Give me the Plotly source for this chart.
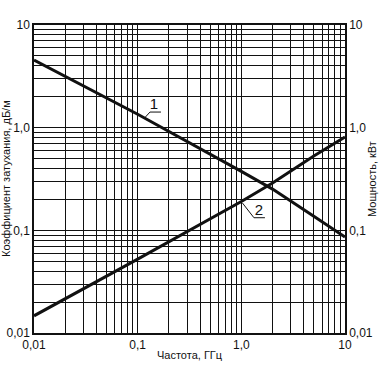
import plotly.graph_objects as go

# Data
freq = [0.01, 0.1, 1.0, 2.0, 5.0, 10.0]            # ГГц
curve1 = [4.55, 1.35, 0.375, 0.252, 0.137, 0.086]  # curve 1
curve2 = [0.0147, 0.0524, 0.191, 0.289, 0.53, 0.81] # curve 2

tick_vals = [0.01, 0.1, 1, 10]
x_tick_text = ["0,01", "0,1", "1,0", "10"]
y_tick_text = ["0,01", "0,1", "1,0", "10"]
minor_vals = [m * d for d in (0.01, 0.1, 1) for m in range(2, 10)]

# Callout labels and leader lines (data coordinates)
lab1_pos = (0.1435, 1.66)
lab1_leader_x = [0.1175, 0.1314, 0.1678]
lab1_leader_y = [1.254, 1.419, 1.419]
lab2_pos = (1.479, 0.154)
lab2_leader_x = [1.025, 1.323, 1.689]
lab2_leader_y = [0.1845, 0.1327, 0.1327]

FONT = "Liberation Sans, Arial, sans-serif"
BLACK = "#111111"

fig = go.Figure()
fig.add_trace(go.Scatter(x=freq, y=curve1, mode="lines",
                         line=dict(color=BLACK, width=3), showlegend=False, hoverinfo="skip"))
fig.add_trace(go.Scatter(x=freq, y=curve2, mode="lines", yaxis="y2",
                         line=dict(color=BLACK, width=3), showlegend=False, hoverinfo="skip"))
fig.add_trace(go.Scatter(x=lab1_leader_x, y=lab1_leader_y, mode="lines",
                         line=dict(color=BLACK, width=1), showlegend=False, hoverinfo="skip"))
fig.add_trace(go.Scatter(x=lab2_leader_x, y=lab2_leader_y, mode="lines",
                         line=dict(color=BLACK, width=1), showlegend=False, hoverinfo="skip"))
fig.add_trace(go.Scatter(x=[lab1_pos[0], lab2_pos[0]], y=[lab1_pos[1], lab2_pos[1]],
                         mode="text", text=["1", "2"],
                         textfont=dict(family=FONT, size=15, color=BLACK),
                         showlegend=False, hoverinfo="skip"))

axis_common = dict(
    type="log", range=[-2, 1], tickvals=tick_vals, automargin=False,
    showgrid=True, gridcolor=BLACK, gridwidth=1,
    showline=True, linecolor=BLACK, linewidth=1.5,
    ticks="", zeroline=False,
    tickfont=dict(family=FONT, size=12, color=BLACK),
    minor=dict(tickvals=minor_vals, showgrid=True, gridcolor=BLACK, gridwidth=1, ticks=""),
)

fig.update_layout(
    width=383, height=365,
    margin=dict(l=34, r=38, t=25, b=32, autoexpand=False),
    paper_bgcolor="white", plot_bgcolor="white",
    xaxis=dict(axis_common, ticktext=x_tick_text, mirror=True),
    yaxis=dict(axis_common, ticktext=y_tick_text, mirror=True),
    yaxis2=dict(axis_common, ticktext=y_tick_text, overlaying="y", side="right", showgrid=False,
                minor=dict(showgrid=False)),
    annotations=[
        dict(text="Частота, ГГц", xref="paper", yref="paper", x=0.5, y=0,
             xanchor="center", yanchor="middle", yshift=-22, showarrow=False,
             font=dict(family=FONT, size=11, color=BLACK)),
        dict(text="Коэффициент затухания, дБ/м", xref="paper", yref="paper", x=0, y=0.5,
             xanchor="center", yanchor="middle", xshift=-28, textangle=-90, showarrow=False,
             font=dict(family=FONT, size=11, color=BLACK)),
        dict(text="Мощность, кВт", xref="paper", yref="paper", x=1, y=0.5,
             xanchor="center", yanchor="middle", xshift=27, textangle=-90, showarrow=False,
             font=dict(family=FONT, size=11, color=BLACK)),
    ],
)

fig.write_html("out.html", config={"displayModeBar": False},
               post_script="document.body.style.margin='0';document.body.style.padding='0';")
